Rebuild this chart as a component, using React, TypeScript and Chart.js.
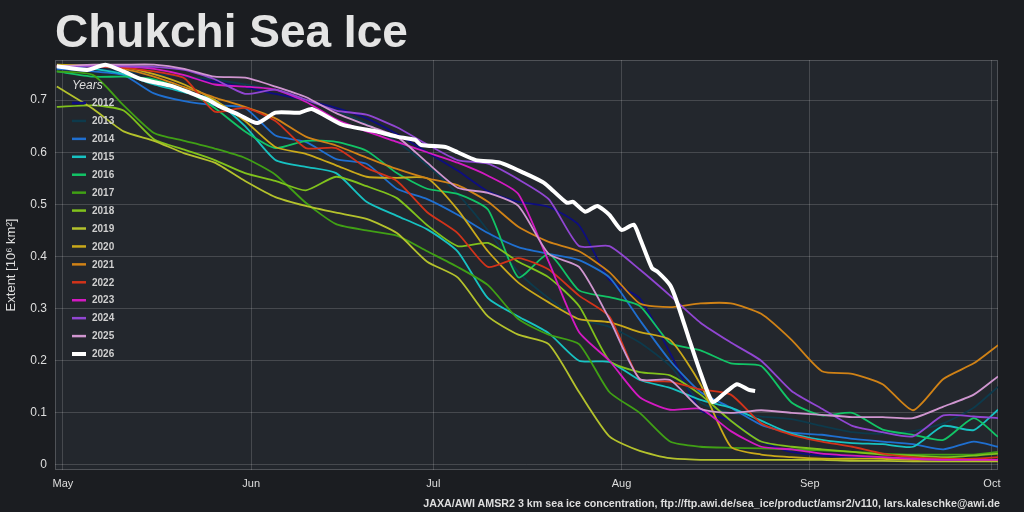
import React, { useEffect, useRef } from "react";
import { Chart, registerables } from "chart.js";

Chart.register(...registerables);

// days since May 1 (shared sampling for the historic years)
const DAYS = [-1, 5, 10, 15, 20, 25, 30, 35, 40, 45, 50, 55, 60, 65, 70, 75, 80, 85, 90, 95, 100, 105, 110, 115, 120, 125, 130, 135, 140, 145, 150, 154];

const MONTH_DAYS = [0, 31, 61, 92, 123, 153];
const MONTH_LABELS = ["May", "Jun", "Jul", "Aug", "Sep", "Oct"];
const Y_TICKS = [0, 0.1, 0.2, 0.3, 0.4, 0.5, 0.6, 0.7];

const YEARS = ["2012", "2013", "2014", "2015", "2016", "2017", "2018", "2019", "2020", "2021", "2022", "2023", "2024", "2025", "2026"];
const COLORS = ["#0d0d80", "#0d3a4c", "#1f6fd0", "#17c2c2", "#12c466", "#40a015", "#80c21c", "#b4c22c", "#caa91a", "#d08216", "#d2331a", "#d419c2", "#9146d2", "#d096d0", "#ffffff"];

// extent, 10^6 km²
const E2012 = [0.76, 0.76, 0.755, 0.75, 0.745, 0.735, 0.725, 0.712, 0.7, 0.685, 0.665, 0.635, 0.6, 0.565, 0.525, 0.505, 0.495, 0.46, 0.355, 0.32, 0.215, 0.105, 0.085, 0.045, 0.025, 0.018, 0.015, 0.012, 0.01, 0.01, 0.01, 0.01];
const E2013 = [0.76, 0.76, 0.755, 0.75, 0.745, 0.74, 0.73, 0.72, 0.7, 0.68, 0.655, 0.62, 0.575, 0.52, 0.45, 0.37, 0.32, 0.28, 0.265, 0.235, 0.19, 0.12, 0.1, 0.093, 0.088, 0.075, 0.063, 0.06, 0.065, 0.08, 0.11, 0.15];
const E2014 = [0.76, 0.755, 0.748, 0.713, 0.698, 0.69, 0.685, 0.632, 0.62, 0.587, 0.578, 0.53, 0.51, 0.48, 0.445, 0.418, 0.405, 0.393, 0.36, 0.278, 0.2, 0.14, 0.11, 0.077, 0.062, 0.058, 0.05, 0.045, 0.04, 0.03, 0.045, 0.035];
const E2015 = [0.765, 0.76, 0.75, 0.73, 0.715, 0.7, 0.65, 0.585, 0.572, 0.56, 0.505, 0.478, 0.452, 0.41, 0.32, 0.285, 0.253, 0.2, 0.198, 0.163, 0.148, 0.125, 0.11, 0.085, 0.06, 0.048, 0.042, 0.04, 0.035, 0.075, 0.067, 0.106];
const E2016 = [0.755, 0.745, 0.745, 0.74, 0.72, 0.685, 0.64, 0.608, 0.622, 0.62, 0.603, 0.56, 0.53, 0.52, 0.49, 0.36, 0.405, 0.335, 0.322, 0.305, 0.234, 0.22, 0.195, 0.19, 0.12, 0.095, 0.1, 0.068, 0.058, 0.048, 0.09, 0.054];
const E2017 = [0.755, 0.748, 0.69, 0.637, 0.622, 0.607, 0.589, 0.557, 0.503, 0.462, 0.45, 0.44, 0.41, 0.38, 0.345, 0.28, 0.25, 0.232, 0.14, 0.1, 0.045, 0.035, 0.033, 0.032, 0.03, 0.028, 0.025, 0.022, 0.02, 0.02, 0.02, 0.025];
const E2018 = [0.687, 0.69, 0.68, 0.625, 0.605, 0.585, 0.56, 0.545, 0.527, 0.553, 0.535, 0.512, 0.46, 0.42, 0.426, 0.39, 0.36, 0.305, 0.2, 0.178, 0.172, 0.135, 0.085, 0.045, 0.035, 0.03, 0.025, 0.02, 0.018, 0.015, 0.018, 0.022];
const E2019 = [0.726, 0.683, 0.64, 0.622, 0.598, 0.58, 0.545, 0.514, 0.497, 0.484, 0.472, 0.445, 0.39, 0.36, 0.285, 0.25, 0.232, 0.14, 0.055, 0.027, 0.013, 0.01, 0.01, 0.01, 0.01, 0.01, 0.008, 0.008, 0.007, 0.007, 0.007, 0.007];
const E2020 = [0.768, 0.766, 0.763, 0.75, 0.73, 0.7, 0.66, 0.61, 0.597, 0.575, 0.553, 0.551, 0.55, 0.49, 0.41, 0.35, 0.312, 0.28, 0.274, 0.255, 0.24, 0.155, 0.035, 0.02, 0.015, 0.012, 0.012, 0.012, 0.01, 0.012, 0.01, 0.01];
const E2021 = [0.765, 0.765, 0.76, 0.745, 0.725, 0.705, 0.687, 0.665, 0.63, 0.613, 0.59, 0.568, 0.55, 0.537, 0.505, 0.457, 0.428, 0.41, 0.37, 0.31, 0.303, 0.31, 0.31, 0.29, 0.24, 0.18, 0.175, 0.155, 0.105, 0.165, 0.195, 0.23];
const E2022 = [0.765, 0.765, 0.762, 0.755, 0.742, 0.678, 0.685, 0.66, 0.608, 0.608, 0.57, 0.545, 0.485, 0.445, 0.38, 0.397, 0.375, 0.325, 0.285, 0.165, 0.16, 0.145, 0.135, 0.08, 0.058, 0.045, 0.035, 0.022, 0.015, 0.012, 0.012, 0.015];
const E2023 = [0.765, 0.765, 0.765, 0.76, 0.748, 0.73, 0.726, 0.72, 0.697, 0.663, 0.64, 0.62, 0.6, 0.58, 0.555, 0.52, 0.39, 0.255, 0.2, 0.13, 0.106, 0.108, 0.065, 0.035, 0.03, 0.022, 0.018, 0.015, 0.012, 0.01, 0.01, 0.01];
const E2024 = [0.765, 0.765, 0.765, 0.764, 0.758, 0.74, 0.712, 0.72, 0.701, 0.68, 0.672, 0.648, 0.615, 0.585, 0.578, 0.548, 0.51, 0.42, 0.42, 0.375, 0.325, 0.273, 0.235, 0.2, 0.142, 0.108, 0.075, 0.063, 0.055, 0.095, 0.093, 0.09];
const E2025 = [0.765, 0.768, 0.768, 0.768, 0.76, 0.745, 0.743, 0.726, 0.706, 0.675, 0.652, 0.63, 0.58, 0.532, 0.522, 0.497, 0.405, 0.38, 0.28, 0.165, 0.163, 0.108, 0.1, 0.105, 0.1, 0.096, 0.092, 0.092, 0.09, 0.112, 0.135, 0.17];

// current year, sampled more densely
const DAYS_2026 = [-1, 4, 7, 10, 13, 18, 21, 24, 26, 29, 32, 35, 39, 41, 46, 52, 55, 58, 59, 63, 65, 68, 72, 76, 79, 80, 83, 84, 86, 88, 90, 92, 94, 95, 97, 98, 100, 101, 103, 105, 107, 109, 111, 113, 114];
const E2026 = [0.765, 0.758, 0.768, 0.755, 0.74, 0.727, 0.714, 0.7, 0.687, 0.672, 0.656, 0.676, 0.676, 0.683, 0.653, 0.639, 0.63, 0.624, 0.614, 0.61, 0.6, 0.585, 0.58, 0.56, 0.543, 0.534, 0.503, 0.505, 0.486, 0.497, 0.48, 0.451, 0.461, 0.436, 0.378, 0.37, 0.345, 0.317, 0.246, 0.177, 0.121, 0.138, 0.155, 0.144, 0.142];

const HISTORY = [E2012, E2013, E2014, E2015, E2016, E2017, E2018, E2019, E2020, E2021, E2022, E2023, E2024, E2025];

const FONT = "'Liberation Sans', Arial, sans-serif";
const TEXT = "#dedede";

const plotFrame = {
  id: "plotFrame",
  beforeDraw(chart: any) {
    const { ctx, chartArea: a } = chart;
    ctx.save();
    ctx.fillStyle = "#23272d";
    ctx.fillRect(a.left, a.top, a.right - a.left, a.bottom - a.top);
    ctx.restore();
  },
  beforeDatasetsDraw(chart: any) {
    const { ctx, chartArea: a } = chart;
    ctx.save();
    ctx.strokeStyle = "rgba(255,255,255,0.2)";
    ctx.lineWidth = 1;
    ctx.strokeRect(a.left + 0.5, a.top + 0.5, a.right - a.left - 1, a.bottom - a.top - 1);
    ctx.restore();
  },
};

const yearLegend = {
  id: "yearLegend",
  afterDatasetsDraw(chart: any) {
    const ctx = chart.ctx;
    const sets = chart.data.datasets;
    ctx.save();
    ctx.textBaseline = "middle";
    ctx.fillStyle = TEXT;
    ctx.font = `italic 12px ${FONT}`;
    ctx.fillText("Years", 72, 86);
    ctx.font = `bold 10px ${FONT}`;
    sets.forEach((ds: any, i: number) => {
      const y = 103 + i * 17.93;
      ctx.strokeStyle = ds.borderColor;
      ctx.lineWidth = i === sets.length - 1 ? 4 : 2.5;
      ctx.beginPath();
      ctx.moveTo(72, y);
      ctx.lineTo(86, y);
      ctx.stroke();
      ctx.fillStyle = "#cfcfcf";
      ctx.fillText(ds.label, 92, y + 0.5);
    });
    ctx.restore();
  },
};

export default function App() {
  const canvasRef = useRef<HTMLCanvasElement>(null);

  useEffect(() => {
    if (!canvasRef.current) return;
    const datasets: any[] = HISTORY.map((vals, i) => ({
      label: YEARS[i],
      data: DAYS.map((d, j) => ({ x: d, y: vals[j] })),
      borderColor: COLORS[i],
      borderWidth: 1.8,
      order: -i,
    }));
    datasets.push({
      label: YEARS[YEARS.length - 1],
      data: DAYS_2026.map((d, j) => ({ x: d, y: E2026[j] })),
      borderColor: COLORS[COLORS.length - 1],
      borderWidth: 4,
      order: -100,
    });

    const chart = new Chart(canvasRef.current, {
      type: "line",
      data: { datasets },
      options: {
        animation: false,
        responsive: true,
        maintainAspectRatio: false,
        layout: { padding: { left: 0, top: 60, right: 26, bottom: 0 } },
        elements: {
          point: { radius: 0 },
          line: { tension: 0.2, fill: false },
        },
        plugins: { legend: { display: false }, tooltip: { enabled: false } },
        scales: {
          x: {
            type: "linear",
            min: -1.3,
            max: 154,
            afterBuildTicks: (s: any) => {
              s.ticks = MONTH_DAYS.map((v) => ({ value: v }));
            },
            afterFit: (s: any) => {
              s.height = 42;
            },
            ticks: {
              autoSkip: false,
              maxRotation: 0,
              padding: 7,
              color: TEXT,
              font: { family: FONT, size: 11 },
              callback: (v: any) => MONTH_LABELS[MONTH_DAYS.indexOf(v)] ?? "",
            },
            grid: { color: "rgba(255,255,255,0.16)", drawTicks: false },
            border: { display: false },
          },
          y: {
            min: -0.0096,
            max: 0.777,
            afterBuildTicks: (s: any) => {
              s.ticks = Y_TICKS.map((v) => ({ value: v }));
            },
            afterFit: (s: any) => {
              s.width = 55;
            },
            ticks: {
              padding: 8,
              color: TEXT,
              font: { family: FONT, size: 12 },
              callback: (v: any) => (v === 0 ? "0" : Number(v).toFixed(1)),
            },
            grid: { color: "rgba(255,255,255,0.16)", drawTicks: false },
            border: { display: false },
            title: {
              display: true,
              text: "Extent [10⁶ km²]",
              color: TEXT,
              font: { family: FONT, size: 13 },
              padding: { top: 4, bottom: 4 },
            },
          },
        },
      },
      plugins: [plotFrame, yearLegend],
    });
    return () => chart.destroy();
  }, []);

  return (
    <div style={{ position: "fixed", left: 0, top: 0, width: 1024, height: 512, background: "#1b1d21", overflow: "hidden", fontFamily: FONT }}>
      <canvas ref={canvasRef} style={{ position: "absolute", left: 0, top: 0, width: 1024, height: 512 }} />
      <div style={{ position: "absolute", left: 55, top: 8, fontSize: 46, lineHeight: "46px", fontWeight: "bold", color: "#e4e4e4", whiteSpace: "nowrap" }}>
        Chukchi Sea Ice
      </div>
      <div style={{ position: "absolute", right: 24, top: 497, fontSize: 10.7, lineHeight: "12px", fontWeight: "bold", color: TEXT, whiteSpace: "nowrap" }}>
        JAXA/AWI AMSR2 3 km sea ice concentration, ftp://ftp.awi.de/sea_ice/product/amsr2/v110, lars.kaleschke@awi.de
      </div>
    </div>
  );
}
